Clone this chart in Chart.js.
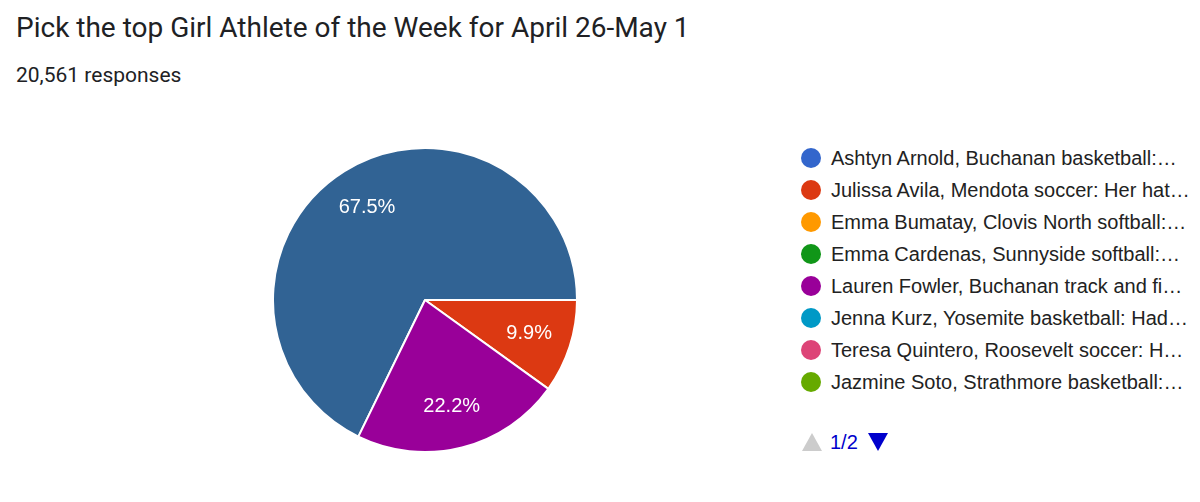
<!DOCTYPE html>
<html>
<head>
<meta charset="utf-8">
<script src="https://cdn.jsdelivr.net/npm/chart.js"></script>
<style>
  body { margin: 0; background: #fff; width: 1200px; height: 502px; overflow: hidden; position: relative; }
  #title { position: absolute; left: 16px; top: 14px; font: 28px Roboto, sans-serif; color: #202124; line-height: 1; white-space: nowrap; }
  #count { position: absolute; left: 16px; top: 65px; font: 21px Roboto, sans-serif; color: #202124; line-height: 1; white-space: nowrap; }
  #pie { position: absolute; left: 272px; top: 147px; width: 306px; height: 306px; }
  #legend { position: absolute; left: 801px; top: 142px; font: 20px Arial, "Liberation Sans", sans-serif; color: #222; }
  .row { height: 32px; display: flex; align-items: center; white-space: nowrap; position: absolute; left: 0; }
  .dot { width: 20px; height: 20px; border-radius: 50%; margin-right: 10px; flex: none; }
  #pager { position: absolute; left: 802px; top: 430px; height: 24px; display: flex; align-items: center; font: 20px Arial, "Liberation Sans", sans-serif; color: #0000cc; }
  .up { width: 0; height: 0; border-left: 10px solid transparent; border-right: 10px solid transparent; border-bottom: 18px solid #ccc; margin-right: 8px; }
  .down { width: 0; height: 0; border-left: 10px solid transparent; border-right: 10px solid transparent; border-top: 18px solid #0000cc; margin-left: 10px; }
</style>
</head>
<body>
<div id="title"></div>
<div id="count"></div>
<div id="pie"><canvas id="chart"></canvas></div>
<div id="legend"></div>
<div id="pager"><span class="up"></span><span id="page"></span><span class="down"></span></div>
<script>
const titleText = 'Pick the top Girl Athlete of the Week for April 26-May 1';
const responses = '20,561 responses';
const pageText = '1/2';

// legend text as shown (cut off in the picture)
const athletes = [
  'Ashtyn Arnold, Buchanan basketball:…',
  'Julissa Avila, Mendota soccer: Her hat…',
  'Emma Bumatay, Clovis North softball:…',
  'Emma Cardenas, Sunnyside softball:…',
  'Lauren Fowler, Buchanan track and fi…',
  'Jenna Kurz, Yosemite basketball: Had…',
  'Teresa Quintero, Roosevelt soccer: H…',
  'Jazmine Soto, Strathmore basketball:…'
];
const shares = [67.5, 9.9, 0, 0, 22.2, 0, 0, 0];
const sliceColors = ['#316394', '#dc3912', '#ff9900', '#109618', '#990099', '#0099c6', '#dd4477', '#66aa00'];
const legendColors = ['#3366cc', '#dc3912', '#ff9900', '#109618', '#990099', '#0099c6', '#dd4477', '#66aa00'];

document.getElementById('title').textContent = titleText;
document.getElementById('count').textContent = responses;
document.getElementById('page').textContent = pageText;

const legend = document.getElementById('legend');
athletes.forEach((name, i) => {
  const row = document.createElement('div');
  row.className = 'row';
  row.style.top = (i * 32) + 'px';
  const dot = document.createElement('span');
  dot.className = 'dot';
  dot.style.background = legendColors[i];
  const txt = document.createElement('span');
  txt.textContent = name;
  row.appendChild(dot);
  row.appendChild(txt);
  legend.appendChild(row);
});

// percent text inside the big slices
const sliceLabels = {
  id: 'sliceLabels',
  afterDatasetsDraw(chart) {
    const ctx = chart.ctx;
    const arcs = chart.getDatasetMeta(0).data;
    ctx.save();
    ctx.fillStyle = '#fff';
    ctx.font = '20px Arial, "Liberation Sans", sans-serif';
    ctx.textAlign = 'center';
    ctx.textBaseline = 'middle';
    arcs.forEach((arc, i) => {
      if (shares[i] < 5) return;
      const p = arc.getProps(['x', 'y', 'startAngle', 'endAngle', 'outerRadius']);
      const mid = (p.startAngle + p.endAngle) / 2;
      const r = p.outerRadius * 0.72;
      ctx.fillText(shares[i].toFixed(1) + '%', p.x + Math.cos(mid) * r, p.y + Math.sin(mid) * r);
    });
    ctx.restore();
  }
};

new Chart(document.getElementById('chart').getContext('2d'), {
  type: 'pie',
  data: {
    labels: athletes,
    datasets: [{
      data: shares,
      backgroundColor: sliceColors,
      borderColor: '#fff',
      borderWidth: 2
    }]
  },
  options: {
    responsive: true,
    maintainAspectRatio: false,
    animation: false,
    rotation: 206,
    layout: { padding: 0 },
    plugins: {
      legend: { display: false },
      tooltip: { enabled: false }
    }
  },
  plugins: [sliceLabels]
});
</script>
</body>
</html>
